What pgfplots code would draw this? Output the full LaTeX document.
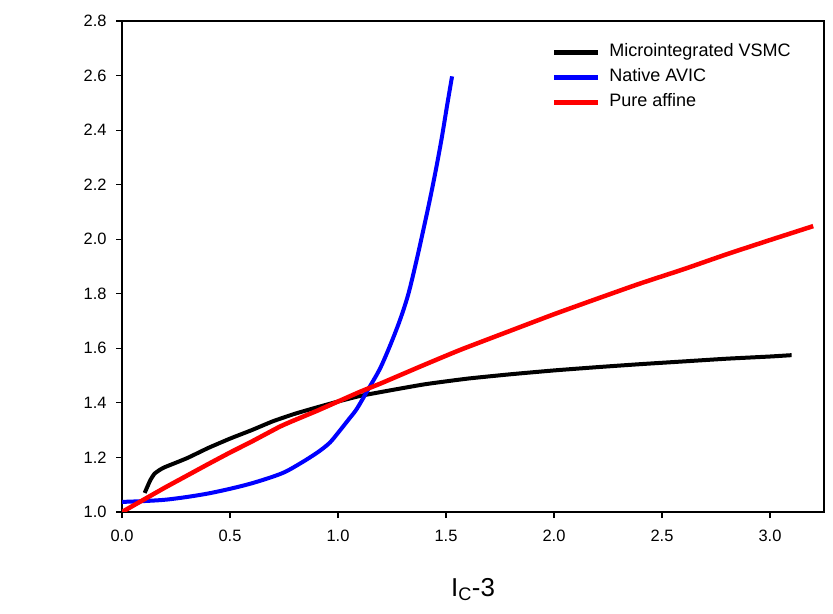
\documentclass[border=0pt]{standalone}
\usepackage{fontspec}
\setmainfont{Liberation Sans}
\usepackage{pgfplots}
\pgfplotsset{compat=1.18}

\begin{document}
\begin{tikzpicture}
\begin{axis}[
  at={(122bp,102bp)}, anchor=south west,
  scale only axis, width=702bp, height=491bp,
  xmin=0, xmax=3.25, ymin=1.0, ymax=2.8,
  xtick={0,0.5,...,3.0}, ytick={1.0,1.2,...,2.8},
  xtick pos=left, ytick pos=left, tick align=outside,
  major tick length=6bp,
  axis line style={line width=1.2bp}, tick style={line width=1.2bp, black},
  /pgf/number format/assume math mode=true,
  xticklabel style={/pgf/number format/.cd, fixed, fixed zerofill, precision=1,
    /tikz/.cd, yshift=-9bp},
  yticklabel style={/pgf/number format/.cd, fixed, fixed zerofill, precision=1,
    /tikz/.cd, xshift=-6bp},
  ticklabel style={font=\fontsize{16.5}{19}\selectfont},
  xlabel={I\textsubscript{C}-3},
  xlabel style={font=\fontsize{26}{30}\selectfont, at={(0.5,-0.128)}, anchor=north},
  legend cell align=left,
  legend style={at={(0.612,0.954)}, anchor=north west, draw=none, fill=none,
    font=\fontsize{18.1}{20}\selectfont, row sep=8bp, column sep=8.5bp, inner sep=0pt,
    nodes={inner sep=0pt, text height=13bp, text depth=4bp}},
  legend image code/.code={\draw[#1, line width=5bp] (0,0) -- (44bp,0);},
]
\addplot[black, line width=4bp, smooth, tension=0.3] coordinates {
(0.105,1.07)(0.13,1.115)(0.15,1.14)(0.176,1.155)(0.2,1.165)(0.3,1.197)(0.4,1.235)
(0.5,1.269)(0.6,1.30)(0.7,1.333)(0.8,1.36)(0.9,1.383)(1.0,1.405)(1.1,1.425)
(1.2,1.44)(1.4,1.468)(1.6,1.489)(1.8,1.505)(2.0,1.519)(2.2,1.531)(2.4,1.542)
(2.6,1.552)(2.8,1.562)(3.0,1.57)(3.1,1.575)};
\addlegendentry{Microintegrated VSMC}
\addplot[blue, line width=4bp, smooth, tension=0.5] coordinates {
(0.0,1.037)(0.1,1.04)(0.2,1.045)(0.3,1.055)(0.4,1.068)(0.5,1.085)(0.6,1.105)
(0.7,1.13)(0.763,1.15)(0.85,1.19)(0.917,1.225)(0.963,1.255)(1.0,1.29)(1.05,1.34)
(1.087,1.378)(1.14,1.45)(1.194,1.525)(1.241,1.61)(1.287,1.704)(1.326,1.80)
(1.364,1.924)(1.395,2.034)(1.424,2.14)(1.452,2.25)(1.48,2.37)(1.505,2.49)
(1.528,2.597)};
\addlegendentry{Native AVIC}
\addplot[red, line width=4.5bp, smooth, tension=0.3] coordinates {
(0,1.0)(0.1,1.045)(0.2,1.09)(0.3,1.133)(0.4,1.176)(0.5,1.218)(0.6,1.258)
(0.731,1.313)(0.8,1.337)(0.9,1.37)(0.963,1.392)(1.1,1.44)(1.2,1.472)(1.38,1.533)
(1.565,1.594)(1.8,1.665)(2.0,1.725)(2.2,1.782)(2.4,1.838)(2.6,1.89)(2.8,1.945)
(3.0,1.997)(3.2,2.048)};
\addlegendentry{Pure affine}
\end{axis}
\pgfresetboundingbox
\useasboundingbox (0,0) rectangle (833bp,614bp);
\end{tikzpicture}
\end{document}
